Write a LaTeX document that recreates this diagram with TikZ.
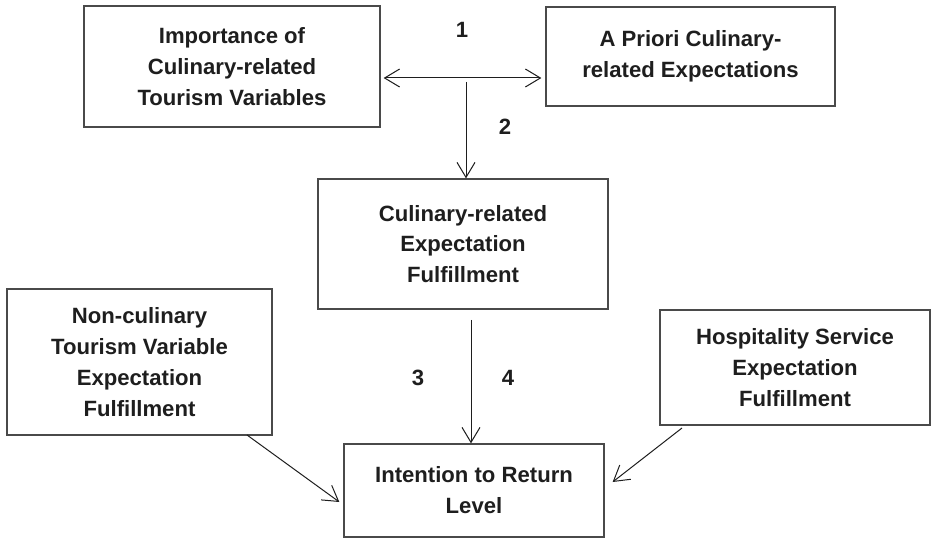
\documentclass[tikz,border=0pt]{standalone}
\usepackage{fontspec}
\setmainfont{Liberation Sans}
\usetikzlibrary{arrows.meta,calc}
\definecolor{ink}{HTML}{1E1E1E}
\definecolor{edge}{HTML}{4A4A4A}
\begin{document}
\begin{tikzpicture}[x=1bp,y=-1bp,
  box/.style={draw=edge,line width=1.3bp,rectangle,inner sep=0pt,align=center,
    text=ink,font=\fontsize{22.2}{31}\selectfont\bfseries},
  lab/.style={text=ink,font=\fontsize{22.2}{31}\selectfont\bfseries,inner sep=0pt},
  conn/.style={draw=ink,line width=1bp,-{Straight Barb[length=15bp,width=18bp,line width=1bp]}},
  dconn/.style={draw=ink,line width=1bp,{Straight Barb[length=15bp,width=18bp,line width=1bp]}-{Straight Barb[length=15bp,width=18bp,line width=1bp]}}]
\useasboundingbox (0,0) rectangle (931,539);

\node[box,minimum width=296bp,minimum height=121bp] (b1) at (232,66.5)
  {Importance of\\Culinary-related\\Tourism Variables};
\node[box,minimum width=289bp,minimum height=99bp] (b2) at (690.5,56.5)
  {A Priori Culinary-\\related Expectations};
\node[box,minimum width=290bp,minimum height=130bp] (b3) at (463,244)
  {Culinary-related\\Expectation\\Fulfillment};
\node[box,minimum width=265bp,minimum height=146bp] (b4) at (139.5,362)
  {Non-culinary\\Tourism Variable\\Expectation\\Fulfillment};
\node[box,minimum width=270bp,minimum height=115bp] (b5) at (795,367.5)
  {Hospitality Service\\Expectation\\Fulfillment};
\node[box,minimum width=260bp,minimum height=93bp] (b6) at (474,490.5)
  {Intention to Return\\Level};

\coordinate (j1) at (466,78);
\coordinate (j2) at (466,82);
\coordinate (j3) at (471,320);
\coordinate (s4) at (247,435);
\coordinate (s5) at (682,428);

\draw[dconn] ($(b1.east |- j1)+(3,0)$) -- ($(b2.west |- j1)+(-4,0)$);
\draw[conn] (j2) -- (b3.north -| j2);
\draw[conn] (j3) -- (b6.north -| j3);
\draw[conn] (s4) -- ($(b6.west)+(-4,11.5)$);
\draw[conn] (s5) -- ($(b6.east)+(8,-8.5)$);

\node[lab] (n1) at (462,30) {1};
\node[lab] (n2) at (505,127) {2};
\node[lab] (n3) at (418,378) {3};
\node[lab] (n4) at (508,378) {4};
\end{tikzpicture}
\end{document}
